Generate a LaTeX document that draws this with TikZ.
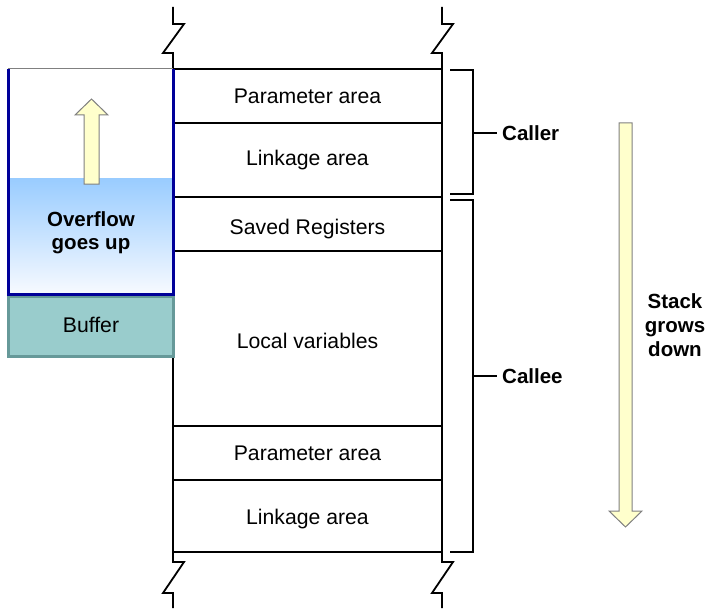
\documentclass[tikz,border=0pt]{standalone}
\usepackage{fontspec}
\setmainfont{Liberation Sans}
\definecolor{overflowblue}{HTML}{000099}
\definecolor{overflowtop}{HTML}{99CCFF}
\definecolor{overflowbottom}{HTML}{F7FAFF}
\definecolor{bufferfill}{HTML}{99CCCC}
\definecolor{bufferdraw}{HTML}{669999}
\definecolor{arrowyellow}{HTML}{FFFFCC}
\definecolor{arrowgray}{HTML}{808080}
\begin{document}
\begin{tikzpicture}[x=1pt,y=-1pt,
	rowtext/.style={text height=15pt,text depth=0pt,font=\fontsize{21.2}{24}\selectfont},
	boldtext/.style={font=\fontsize{20.5}{23}\selectfont\bfseries,align=center},
	fatarrow/.style={fill=arrowyellow,draw=arrowgray,line width=1pt}]
\useasboundingbox (0,0) rectangle (705,610);
%Stapel mit Bruchstellen
	\foreach \x in {173,442}{
	  \draw[line width=1.8pt] (\x,7) -- (\x,24) -- (\x+11,24) -- (\x-10,53) -- (\x,53)
	    -- (\x,562) -- (\x+11,562) -- (\x-10,593) -- (\x,593) -- (\x,608);}
	\foreach \y in {69,123,197,251,426,480,552}{
	  \draw[line width=1.8pt] (173,\y) -- (442,\y);}
%Beschriftung der Bereiche
	\draw (307.5,96.5) node (parA)
	  [rowtext]
	  {Parameter area};
	\draw (307.5,157.5) node (linkA)
	  [rowtext]
	  {Linkage area};
	\draw (307.5,227) node (saved)
	  [rowtext]
	  {Saved Registers};
	\draw (307.5,341) node (locals)
	  [rowtext]
	  {Local variables};
	\draw (307.5,453) node (parB)
	  [rowtext]
	  {Parameter area};
	\draw (307.5,516.5) node (linkB)
	  [rowtext]
	  {Linkage area};
%Klammern
	\draw[line width=1.8pt] (450,70) -- (473,70) -- (473,194) -- (450,194);
	\draw[line width=1.8pt] (450,200) -- (473,200) -- (473,552) -- (450,552);
	\coordinate (callerTick) at (473,133);
	\coordinate (calleeTick) at (473,376);
	\draw (497,133) node (caller)
	  [boldtext,anchor=west,inner xsep=5pt]
	  {Caller};
	\draw (497,376) node (callee)
	  [boldtext,anchor=west,inner xsep=5pt]
	  {Callee};
	\draw[line width=1.8pt] (callerTick) -- (caller.west);
	\draw[line width=1.8pt] (calleeTick) -- (callee.west);
%Puffer
	\draw[fill=bufferfill,draw=bufferdraw,line width=3pt] (8,296) rectangle (173,356);
	\draw (91,324.5) node (buffer)
	  [rowtext]
	  {Buffer};
%Ueberlauf
	\fill[white] (8,69) rectangle (173,178);
	\shade[top color=overflowtop,bottom color=overflowbottom] (8,178) rectangle (173,294);
	\draw[draw=arrowgray,line width=1pt] (8,69) -- (173,69);
	\draw[draw=overflowblue,line width=3pt] (8,69) -- (8,294) -- (173,294) -- (173,69);
	\draw (91,233) node (overflow)
	  [boldtext]
	  {Overflow\\goes up};
	\draw[fatarrow] (84,184) -- (84,115) -- (75,115) -- (91.5,99) -- (108,115) -- (99,115) -- (99,184) -- cycle;
%Wachstumsrichtung
	\draw[fatarrow] (619,123) -- (619,511) -- (609,511) -- (625.5,527) -- (642,511) -- (632,511) -- (632,123) -- cycle;
	\draw (675,325) node (stack)
	  [boldtext,font=\fontsize{20.5}{24}\selectfont\bfseries]
	  {Stack\\grows\\down};
\end{tikzpicture}
\end{document}
